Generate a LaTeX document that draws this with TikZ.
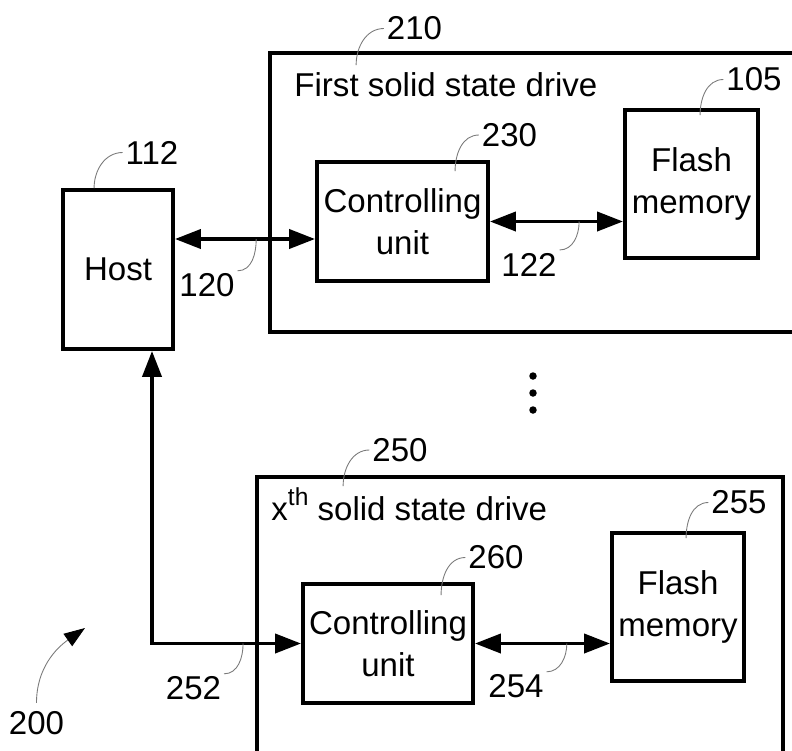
\documentclass[tikz,border=0pt]{standalone}
\usepackage{fontspec}
\setmainfont{Liberation Sans}
\usepackage{tikz}
\usetikzlibrary{positioning,arrows.meta,calc}
\definecolor{leadgray}{HTML}{7A7A7A}
\newcommand{\supth}{\raisebox{8.5pt}{\fontsize{14}{14}\selectfont th}}

\begin{document}
\begin{tikzpicture}[x=0.02cm, y=-0.02cm,
    every node/.style={font=\fontsize{18.8}{23.8}\selectfont},
    blk/.style={draw, line width=2.2pt, align=center, inner sep=0pt},
    lbl/.style={inner sep=1.5pt},
    lead/.style={draw=leadgray, line width=0.5pt},
    link/.style={line width=2.2pt, {Triangle[length=0.52cm, width=0.38cm]}-{Triangle[length=0.52cm, width=0.38cm]}}]
  \useasboundingbox (0,0) rectangle (792,751);
  \clip (0,0) rectangle (792,751);
  % drives
  \node[blk, minimum width=11cm, minimum height=5.58cm] (ssdA) at (545,192.5) {};
  \node[blk, minimum width=10.52cm, minimum height=6.86cm] (ssdB) at (520,648.5) {};
  \node[inner sep=0pt, anchor=base west] (tA) at ($(ssdA.north west)+(26,45)$) {First solid state drive};
  \node[inner sep=0pt, anchor=base west] (tB) at ($(ssdB.north west)+(16,45)$) {x\supth{} solid state drive};
  % blocks
  \node[blk, minimum width=2.2cm, minimum height=3.18cm] (host) at (118,269.5) {Host};
  \node[blk, minimum width=3.42cm, minimum height=2.38cm] (ctrlA) at (402.5,221.5) {Controlling\\unit};
  \node[blk, minimum width=2.66cm, minimum height=2.96cm] (flashA) at (691.5,184) {Flash\\memory};
  \node[blk, minimum width=3.4cm, minimum height=2.38cm] (ctrlB) at (388,643.5) {Controlling\\unit};
  \node[blk, minimum width=2.64cm, minimum height=2.96cm] (flashB) at (678,607) {Flash\\memory};
  % buses
  \coordinate (a120) at ($(ctrlA.west)+(0,17.5)$);
  \draw[link] (host.east |- a120) -- coordinate[pos=0.58] (p120) (a120);
  \draw[link] (ctrlA.east) -- coordinate[pos=0.67] (p122) (ctrlA.east -| flashA.west);
  \draw[link] (ctrlB.east) -- coordinate[pos=0.68] (p254) (ctrlB.east -| flashB.west);
  \draw[link] ($(host.south)+(34,0)$) |- (ctrlB.west);
  \coordinate (p252) at ($(ctrlB.west)+(-58,0)$);
  % dots
  \foreach \dy in {376,393,410} \fill (533,\dy) circle(0.075cm);
  % reference numbers
  \node[lbl] (l112) at (152,152.5) {112};
  \node[lbl] (l120) at (207,285.5) {120};
  \node[lbl] (l210) at (414.5,28.5) {210};
  \node[lbl] (l230) at (509.5,135) {230};
  \node[lbl] (l105) at (754,79.5) {105};
  \node[lbl] (l122) at (529,264.5) {122};
  \node[lbl] (l250) at (400,450) {250};
  \node[lbl] (l260) at (496,557.5) {260};
  \node[lbl] (l255) at (739,502.5) {255};
  \node[lbl] (l254) at (516,686.5) {254};
  \node[lbl] (l252) at (193.5,688.5) {252};
  \node[lbl] (l200) at (36.5,723.5) {200};
  \coordinate (p112) at ($(host.north west)+(33,0)$);
  \coordinate (p210) at ($(ssdA.north west)+(88,14)$);
  \coordinate (p230) at ($(ctrlA.north west)+(140,11)$);
  \coordinate (p105) at ($(flashA.north west)+(77,7)$);
  \coordinate (p250) at ($(ssdB.north west)+(88,11)$);
  \coordinate (p260) at ($(ctrlB.north west)+(140,13)$);
  \coordinate (p255) at ($(flashB.north west)+(76,7)$);
  \foreach \n in {112,210,230,105,250,260,255}
    \draw[lead] (p\n) to[out=90, in=180] (l\n.west);
  \foreach \n in {120,122,254,252}
    \draw[lead] (p\n) to[out=-90, in=0] (l\n.north east);
  \coordinate (tip200) at (85,628);
  \draw[lead, -{Triangle[length=0.42cm, width=0.3cm, color=black]}] ($(l200.north)+(0,-6)$) to[out=90, in=215] (tip200);
\end{tikzpicture}
\end{document}
